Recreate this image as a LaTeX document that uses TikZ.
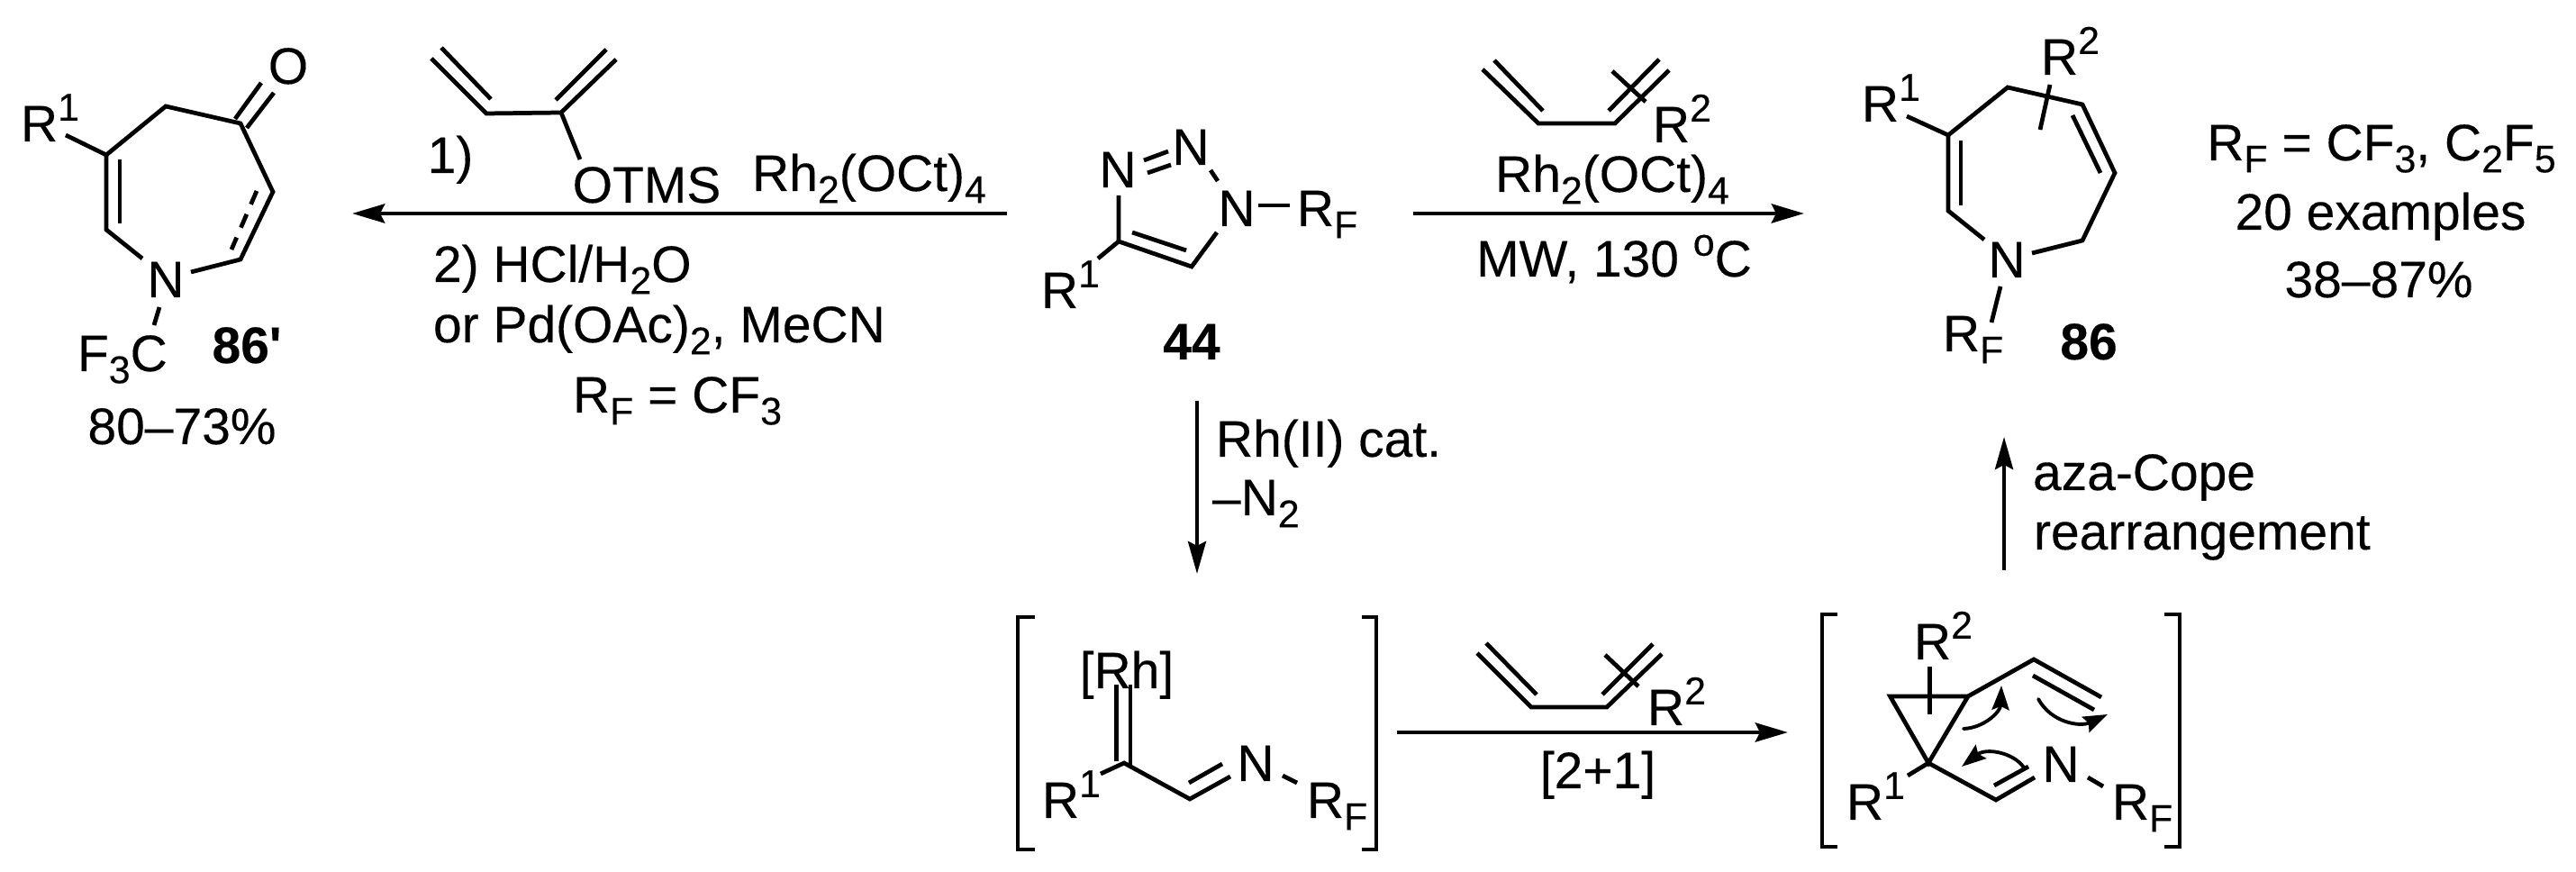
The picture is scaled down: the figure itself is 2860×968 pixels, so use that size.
\documentclass[tikz,border=0pt]{standalone}
\usepackage{fontspec}
\setmainfont{Liberation Sans}[Ligatures=TeXOff,FakeBold=0.25]
\usetikzlibrary{arrows.meta}
\newcommand{\sbt}[1]{\raisebox{-3.8pt}{\fontsize{12.2pt}{13pt}\selectfont #1}}
\newcommand{\spt}[1]{\raisebox{6.6pt}{\fontsize{12.2pt}{13pt}\selectfont #1}}
\tikzset{
  every node/.style={inner sep=0pt,outer sep=0pt,font=\fontsize{16.2pt}{18pt}\selectfont},
  tc/.style={anchor=base},
  tl/.style={anchor=base west},
  tb/.style={anchor=base,font=\fontsize{16.2pt}{18pt}\selectfont\bfseries},
  bond/.style={line width=1.35pt,line cap=butt,line join=miter,black},
  brk/.style={line width=1.4pt,line join=miter,black},
  rxn/.style={line width=1.4pt,-{Stealth[length=3.6mm,width=2.1mm,inset=0.5mm]}},
  rxnv/.style={line width=1.2pt,-{Stealth[length=3.6mm,width=2.0mm,inset=0.5mm]}},
  curly/.style={line width=1.1pt,line cap=round,-{Stealth[length=2.7mm,width=1.9mm,inset=0.4mm]}}
}
\begin{document}
\begin{tikzpicture}[x=0.01cm,y=-0.01cm]
\useasboundingbox (0,0) rectangle (2860,968);
% ---- compound 86'
\draw[bond] (73,150) -- (118,172) ;
\draw[bond] (158,287) -- (118,255) -- (118,172) -- (184,118) -- (267,137) -- (303,213) -- (267,288) -- (212,302);
\draw[bond] (133,177) -- (133,248);
\draw[bond,dash pattern=on 4.6pt off 3.4pt] (285,212) -- (257,277);
\draw[bond] (261,132) -- (290,92);
\draw[bond] (274,142) -- (304,103);
\draw[bond] (177,341) -- (171,361);
\node[tc] (oa) at (320,93) {O};
\node[tl] (r1a) at (23,157) {R\spt{1}};
\node[tc] (na) at (184,330) {N};
\node[tl] (f3c) at (86,412) {F\sbt{3}C};
\node[tb] (l86p) at (274,403) {86'};
\node[tc] (yielda) at (202,493) {80–73\%};
% ---- left arrow and its reagents
\coordinate (al1) at (1118,237); \coordinate (al2) at (391,237);
\draw[rxn] (al1) -- (al2);
\draw[bond] (490,53) -- (545,110);
\draw[bond] (479,65) -- (540,126) -- (623,125) -- (684,66);
\draw[bond] (617,111) -- (673,55);
\draw[bond] (623,125) -- (644,177);
\node[tc] (st1) at (500,192) {1)};
\node[tc] (otms) at (718,225) {OTMS};
\node[tc] (rha) at (965,212) {Rh\sbt{2}(OCt)\sbt{4}};
\node[tl] (st2) at (481,313) {2) HCl/H\sbt{2}O};
\node[tl] (st2b) at (481,380) {or Pd(OAc)\sbt{2}, MeCN};
\node[tc] (rfa) at (752,458) {R\sbt{F} = CF\sbt{3}};
% ---- triazole 44
\node[tc] (n1) at (1241,208) {N};
\node[tc] (n2) at (1322,183) {N};
\node[tc] (n3) at (1373,251) {N};
\node[tl] (rfb) at (1440,251) {R\sbt{F}};
\node[tl] (r1b) at (1156,342) {R\spt{1}};
\node[tb] (l44) at (1323,399) {44};
\draw[bond] (1397,228) -- (1432,228);
\draw[bond] (1270,178) -- (1297,168);
\draw[bond] (1274,192) -- (1300,183);
\draw[bond] (1344,189) -- (1352,201);
\draw[bond] (1242,217) -- (1242,268) -- (1323,296) -- (1351,258);
\draw[bond] (1257,258) -- (1317,278);
\draw[bond] (1242,268) -- (1219,287);
% ---- right arrow
\coordinate (ar1) at (1569,237); \coordinate (ar2) at (2003,237);
\draw[rxn] (ar1) -- (ar2);
\draw[bond] (1659,67) -- (1713,123);
\draw[bond] (1646,77) -- (1708,137) -- (1793,137) -- (1853,78);
\draw[bond] (1786,123) -- (1842,66);
\draw[bond] (1790,79) -- (1827,113);
\node[tl] (r2a) at (1835,158) {R\spt{2}};
\node[tc] (rhb) at (1790,213) {Rh\sbt{2}(OCt)\sbt{4}};
\node[tc] (mw) at (1792,307) {MW, 130 \spt{o}C};
% ---- compound 86
\draw[bond] (2117,129) -- (2163,150);
\draw[bond] (2203,266) -- (2163,234) -- (2163,150) -- (2229,97) -- (2312,116) -- (2348,192) -- (2312,267) -- (2256,281);
\draw[bond] (2177,156) -- (2177,228);
\draw[bond] (2301,128) -- (2332,192);
\draw[bond] (2276,94) -- (2265,144);
\draw[bond] (2221,318) -- (2211,358);
\node[tl] (r1c) at (2067,135) {R\spt{1}};
\node[tl] (r2c) at (2266,83) {R\spt{2}};
\node[tc] (nc) at (2228,308) {N};
\node[tl] (rfc) at (2157,390) {R\sbt{F}};
\node[tb] (l86) at (2319,399) {86};
\node[tc] (scope1) at (2644,178) {R\sbt{F} = CF\sbt{3}, C\sbt{2}F\sbt{5}};
\node[tc] (scope2) at (2643,255) {20 examples};
\node[tc] (scope3) at (2641,330) {38–87\%};
% ---- vertical arrows
\coordinate (ad1) at (1329,445); \coordinate (ad2) at (1329,637);
\draw[rxnv] (ad1) -- (ad2);
\node[tl] (rhii) at (1350,507) {Rh(II) cat.};
\node[tl] (mn2) at (1346,572) {–N\sbt{2}};
\coordinate (au1) at (2225,633); \coordinate (au2) at (2225,485);
\draw[rxnv] (au1) -- (au2);
\node[tl] (aza) at (2257,544) {aza-Cope};
\node[tl] (rear) at (2258,610) {rearrangement};
% ---- carbene intermediate
\draw[brk] (1149,685) -- (1130,685) -- (1130,943) -- (1149,943);
\draw[brk] (1512,685) -- (1528,685) -- (1528,943) -- (1512,943);
\node[tc] (rh) at (1251,764) {[Rh]};
\draw[bond] (1239.5,760) -- (1239.5,845);
\draw[bond] (1255,760) -- (1255,850);
\draw[bond] (1222,859) -- (1248,847) -- (1321,887) -- (1366,862);
\draw[bond] (1320,869) -- (1357,848);
\draw[bond] (1424,861) -- (1440,869);
\node[tc] (nd) at (1394,867) {N};
\node[tl] (r1d) at (1157,908) {R\spt{1}};
\node[tl] (rfd) at (1451,908) {R\sbt{F}};
% ---- bottom arrow
\coordinate (ab1) at (1551,813); \coordinate (ab2) at (1985,813);
\draw[rxn] (ab1) -- (ab2);
\draw[bond] (1650,714) -- (1706,771);
\draw[bond] (1640,725) -- (1700,785) -- (1784,785) -- (1845,726);
\draw[bond] (1779,771) -- (1835,715);
\draw[bond] (1782,727) -- (1819,762);
\node[tl] (r2d) at (1829,805) {R\spt{2}};
\node[tc] (plus) at (1774,875) {[2+1]};
% ---- cyclopropane intermediate
\draw[brk] (2040,682) -- (2023,682) -- (2023,940) -- (2040,940);
\draw[brk] (2403,682) -- (2420,682) -- (2420,940) -- (2403,940);
\draw[bond] (2098.5,773) -- (2185,773) -- (2141,847) -- cycle;
\draw[bond] (2142.5,740) -- (2142.5,793);
\draw[bond] (2185,773) -- (2258,732) -- (2333,774);
\draw[bond] (2257,750) -- (2325,788);
\draw[bond] (2118,861) -- (2141,847) -- (2216,888) -- (2259,863);
\draw[bond] (2214,872) -- (2252,851);
\draw[bond] (2318,863) -- (2335,873);
\node[tc] (ne) at (2288,868) {N};
\node[tl] (r2e) at (2125,732) {R\spt{2}};
\node[tl] (r1e) at (2050,910) {R\spt{1}};
\node[tl] (rfe) at (2345,910) {R\sbt{F}};
\coordinate (c1a) at (2180,809); \coordinate (c1b) at (2222,761);
\coordinate (c2a) at (2263,776); \coordinate (c2b) at (2340,793);
\coordinate (c3a) at (2247,852); \coordinate (c3b) at (2178,851);
\draw[curly] (c1a) .. controls (2203,808) and (2221,790) .. (c1b);
\draw[curly] (c2a) .. controls (2278,803) and (2310,807) .. (c2b);
\draw[curly] (c3a) .. controls (2235,835) and (2205,830) .. (c3b);
\end{tikzpicture}
\end{document}
